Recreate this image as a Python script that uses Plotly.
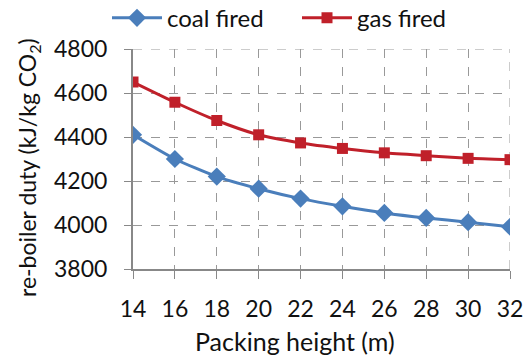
import plotly.graph_objects as go

heights = [14, 16, 18, 20, 22, 24, 26, 28, 30, 32]
coal_fired = [4410, 4300, 4220, 4165, 4120, 4085, 4055, 4032, 4013, 3992]
gas_fired = [4650, 4558, 4475, 4410, 4373, 4348, 4328, 4315, 4303, 4297]

blue = "#4A7EBB"
red = "#C0202A"
font = "Lato, 'Open Sans', sans-serif"

fig = go.Figure()
fig.add_trace(go.Scatter(x=heights, y=coal_fired, name="coal fired", mode="lines+markers",
                         line=dict(color=blue, width=3, shape="spline", smoothing=0.6),
                         marker=dict(symbol="diamond", size=14, color=blue)))
fig.add_trace(go.Scatter(x=heights, y=gas_fired, name="gas fired", mode="lines+markers",
                         line=dict(color=red, width=3, shape="spline", smoothing=0.6),
                         marker=dict(symbol="square", size=11, color=red)))

fig.update_layout(
    width=529, height=361,
    margin=dict(l=133, r=19, t=49, b=92, autoexpand=False),
    paper_bgcolor="white", plot_bgcolor="white",
    font=dict(family=font, size=23, color="#111"),
    showlegend=True,
    legend=dict(orientation="h", x=(107 - 133) / 377, xanchor="left", y=1.14, yanchor="middle",
                font=dict(size=24), itemwidth=50, tracegroupgap=0,
                entrywidth=125, entrywidthmode="pixels",
                bgcolor="rgba(0,0,0,0)"),
    xaxis=dict(range=[14, 32], tickvals=heights, ticks="outside", ticklen=8, tickcolor="#888",
               showline=True, linecolor="#888", linewidth=2, ticklabelstandoff=10,
               showgrid=True, gridcolor="#999", griddash="dash", gridwidth=1,
               zeroline=False, mirror=False, automargin=False),
    yaxis=dict(range=[3800, 4800], dtick=200, ticks="outside", ticklen=7, tickcolor="#888",
               showline=True, linecolor="#888", linewidth=2, ticklabelstandoff=12,
               showgrid=True, gridcolor="#999", griddash="dash", gridwidth=1,
               zeroline=False, automargin=False),
    annotations=[
        dict(text="Packing height (m)", xref="paper", yref="paper",
             x=(295 - 133) / 377, y=-(341 - 269) / 220, xanchor="center", yanchor="middle",
             showarrow=False, font=dict(size=25)),
        dict(text="re-boiler duty (kJ/kg CO<sub>2</sub>)", xref="paper", yref="paper",
             x=-(133 - 28) / 377, y=1 - (168 - 49) / 220, xanchor="center", yanchor="middle",
             textangle=-90, showarrow=False, font=dict(size=23)),
    ],
)
# right and top dashed borders
fig.add_shape(type="line", xref="x", yref="paper", x0=32, x1=32, y0=0, y1=1,
              line=dict(color="#999", width=1, dash="dash"), layer="below")
fig.add_shape(type="line", xref="paper", yref="y", x0=0, x1=1, y0=4800, y1=4800,
              line=dict(color="#999", width=1, dash="dash"), layer="below")

fig.write_html("out.html")
